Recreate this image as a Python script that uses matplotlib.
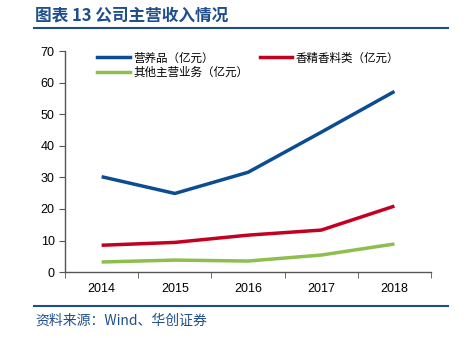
import matplotlib
matplotlib.use("Agg")
import matplotlib.pyplot as plt
from matplotlib.lines import Line2D

plt.rcParams['font.family'] = ['Liberation Sans', 'Noto Sans CJK SC', 'DejaVu Sans']

years = ['2014', '2015', '2016', '2017', '2018']
nutrition = [30.2, 24.9, 31.6, 44.3, 57.2]
flavors = [8.5, 9.4, 11.7, 13.3, 20.9]
others = [3.2, 3.8, 3.5, 5.4, 8.9]

blue = '#0B4C92'
red = '#C3001F'
green = '#8DBE4E'
navy = '#1F4E8C'

fig = plt.figure(figsize=(4.68, 3.38), dpi=100)
ax = fig.add_axes([0.139, 0.195, 0.782, 0.654])

x = range(len(years))
ax.plot(x, nutrition, color=blue, lw=2.5, solid_capstyle='butt')
ax.plot(x, flavors, color=red, lw=2.5, solid_capstyle='butt')
ax.plot(x, others, color=green, lw=2.5, solid_capstyle='butt')

ax.set_xlim(-0.5, len(years) - 0.5)
ax.set_ylim(0, 70)
ax.set_yticks(range(0, 71, 10))
ax.set_xticks(list(x))
ax.set_xticklabels(years)
ax.set_xticks([i - 0.5 for i in range(len(years) + 1)], minor=True)
ax.tick_params(axis='x', which='major', length=0, pad=8, labelsize=9)
ax.tick_params(axis='x', which='minor', length=4, color='#555555', direction='out')
ax.tick_params(axis='y', length=4, color='#555555', labelsize=9)

for s in ['top', 'right']:
    ax.spines[s].set_visible(False)
for s in ['left', 'bottom']:
    ax.spines[s].set_color('#555555')
    ax.spines[s].set_linewidth(1)

handles = [Line2D([], [], color=blue, lw=2.5),
           Line2D([], [], color=green, lw=2.5),
           Line2D([], [], color=red, lw=2.5)]
labels = ['营养品（亿元）', '其他主营业务（亿元）', '香精香料类（亿元）']
ax.legend(handles, labels, ncol=2, loc='upper left', bbox_to_anchor=(0.06, 1.045),
          frameon=False, handlelength=2.8, handletextpad=0.3,
          columnspacing=1.0, labelspacing=0.1,
          prop={'family': ['Noto Sans CJK SC'], 'size': 8.3})

fig.text(0.075, 0.955, '图表 13 公司主营收入情况', fontsize=12, fontweight='bold',
         color=navy, family=['Noto Sans CJK SC'], va='center')
fig.add_artist(Line2D([0.073, 0.958], [0.917, 0.917], color=navy, lw=1.5,
                      transform=fig.transFigure))
fig.add_artist(Line2D([0.073, 0.958], [0.094, 0.094], color=navy, lw=1.5,
                      transform=fig.transFigure))
fig.text(0.075, 0.05, '资料来源：Wind、华创证券', fontsize=10, style='italic',
         color=navy, family=['Noto Sans CJK SC', 'DejaVu Sans'], va='center')

fig.savefig('out.png', dpi=100)
